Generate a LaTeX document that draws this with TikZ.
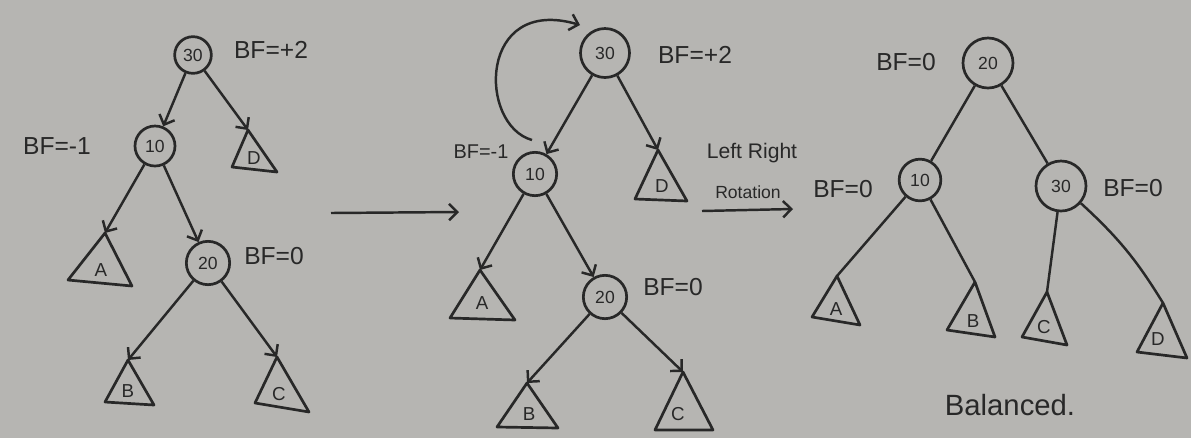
\documentclass[tikz,border=0pt]{standalone}
\usepackage{fontspec}
\setmainfont{Liberation Sans}
\usetikzlibrary{arrows.meta}
\definecolor{paper}{RGB}{182,181,178}
\definecolor{ink}{RGB}{40,40,40}
\begin{document}
\begin{tikzpicture}[x=0.03cm,y=-0.03cm,
  nd/.style={circle,draw=ink,line width=2.3pt,inner sep=0pt,text=ink,font=\fontsize{15}{15}\selectfont},
  lbl/.style={text=ink,font=\fontsize{21}{21}\selectfont,inner sep=0pt},
  tlbl/.style={text=ink,font=\fontsize{16}{16}\selectfont,inner sep=0pt},
  arr/.style={draw=ink,line width=2.1pt,-{Straight Barb[length=7pt,width=14pt,line width=2.1pt]}},
  edgeline/.style={draw=ink,line width=2.1pt},
  tri/.style={draw=ink,line width=2.3pt,line join=round}]
\useasboundingbox (0,0) rectangle (1191,438);
\fill[paper] (0,0) rectangle (1191,438);

% ---------------- Tree 1 ----------------
\node[nd,minimum size=1.1cm] (a30) at (193,55) {30};
\node[nd,minimum size=1.2cm] (a10) at (155,146) {10};
\node[nd,minimum size=1.3cm] (a20) at (208,263) {20};
\node[lbl] (a30bf) at (271,50) {BF=+2};
\node[lbl] (a10bf) at (57,146) {BF=-1};
\node[lbl] (a20bf) at (274,256) {BF=0};
% subtrees
\coordinate (aD) at (248,130);
\draw[tri] (aD) -- (232,167) -- (277,172) -- cycle;
\node[tlbl] (aDl) at (254,158) {D};
\coordinate (aA) at (105,233);
\draw[tri] (aA) -- (68,280) -- (132,286) -- cycle;
\node[tlbl] (aAl) at (101,270) {A};
\coordinate (aB) at (128,360);
\draw[tri] (aB) -- (105,402) -- (154,405) -- cycle;
\node[tlbl] (aBl) at (128,391) {B};
\coordinate (aC) at (277,357);
\draw[tri] (aC) -- (255,403) -- (309,412) -- cycle;
\node[tlbl] (aCl) at (279,394) {C};
% edges
\draw[arr] (a30) -- (a10);
\draw[arr] (a30) -- (aD);
\draw[arr] (a10) -- (aA);
\draw[arr] (a10) -- (a20);
\draw[arr] (a20) -- (aB);
\draw[arr] (a20) -- (aC);

% big arrow
\coordinate (m1) at (331,213);
\coordinate (m2) at (459,212);
\draw[arr] (m1) -- (m2);

% ---------------- Tree 2 ----------------
\node[nd,minimum size=1.47cm] (b30) at (605,53) {30};
\node[nd,minimum size=1.3cm] (b10) at (535,174) {10};
\node[nd,minimum size=1.3cm] (b20) at (605,297) {20};
\node[lbl] (b30bf) at (695,55) {BF=+2};
\node[lbl,font=\fontsize{17}{17}\selectfont] (b10bf) at (481,152) {BF=-1};
\node[lbl] (b20bf) at (673,287) {BF=0};
\node[lbl,font=\fontsize{18}{18}\selectfont] (lr) at (752,153) {Left Right};
\node[lbl,font=\fontsize{15}{15}\selectfont] (rot) at (748,192) {Rotation};
\coordinate (r1) at (702,211);
\coordinate (r2) at (793,209);
\draw[arr] (r1) -- (r2);
% rotation curve
\coordinate (cv1) at (532,140);
\coordinate (cv2) at (580,25);
\draw[arr] (cv1) .. controls (478,125) and (478,-5) .. (cv2);
% subtrees
\coordinate (bD) at (658,150);
\draw[tri] (bD) -- (635,199) -- (687,201) -- cycle;
\node[tlbl] (bDl) at (662,186) {D};
\coordinate (bA) at (480,270);
\draw[tri] (bA) -- (450,318) -- (515,320) -- cycle;
\node[tlbl] (bAl) at (482,303) {A};
\coordinate (bB) at (527,383);
\draw[tri] (bB) -- (497,427) -- (558,428) -- cycle;
\node[tlbl] (bBl) at (529,414) {B};
\coordinate (bC) at (683,372);
\draw[tri] (bC) -- (655,430) -- (713,430) -- cycle;
\node[tlbl] (bCl) at (678,414) {C};
% edges
\draw[arr] (b30) -- (b10);
\draw[arr] (b30) -- (bD);
\draw[arr] (b10) -- (bA);
\draw[arr] (b10) -- (b20);
\draw[arr] (b20) -- (bB);
\draw[arr] (b20) -- (bC);

% ---------------- Tree 3 ----------------
\node[nd,minimum size=1.5cm] (c20) at (988,63) {20};
\node[nd,minimum size=1.25cm] (c10) at (920,180) {10};
\node[nd,minimum size=1.5cm] (c30) at (1061,186) {30};
\node[lbl] (c20bf) at (906,62) {BF=0};
\node[lbl] (c10bf) at (843,189) {BF=0};
\node[lbl] (c30bf) at (1133,188) {BF=0};
\coordinate (cA) at (837,276);
\draw[tri] (cA) -- (812,317) -- (860,325) -- cycle;
\node[tlbl] (cAl) at (836,309) {A};
\coordinate (cB) at (975,282);
\draw[tri] (cB) -- (947,330) -- (995,337) -- cycle;
\node[tlbl] (cBl) at (973,321) {B};
\coordinate (cC) at (1047,292);
\draw[tri] (cC) -- (1022,337) -- (1067,345) -- cycle;
\node[tlbl] (cCl) at (1044,327) {C};
\coordinate (cD) at (1163,303);
\draw[tri] (cD) -- (1137,352) -- (1187,358) -- cycle;
\node[tlbl] (cDl) at (1158,339) {D};
\draw[edgeline] (c20) -- (c10);
\draw[edgeline] (c20) -- (c30);
\draw[edgeline] (c10) -- (cA);
\draw[edgeline] (c10) -- (cB);
\draw[edgeline] (c30) -- (cC);
\draw[edgeline] (c30) to[bend left=8] (cD);
\node[lbl,font=\fontsize{25}{25}\selectfont] (bal) at (1010,405) {Balanced.};
\end{tikzpicture}
\end{document}
